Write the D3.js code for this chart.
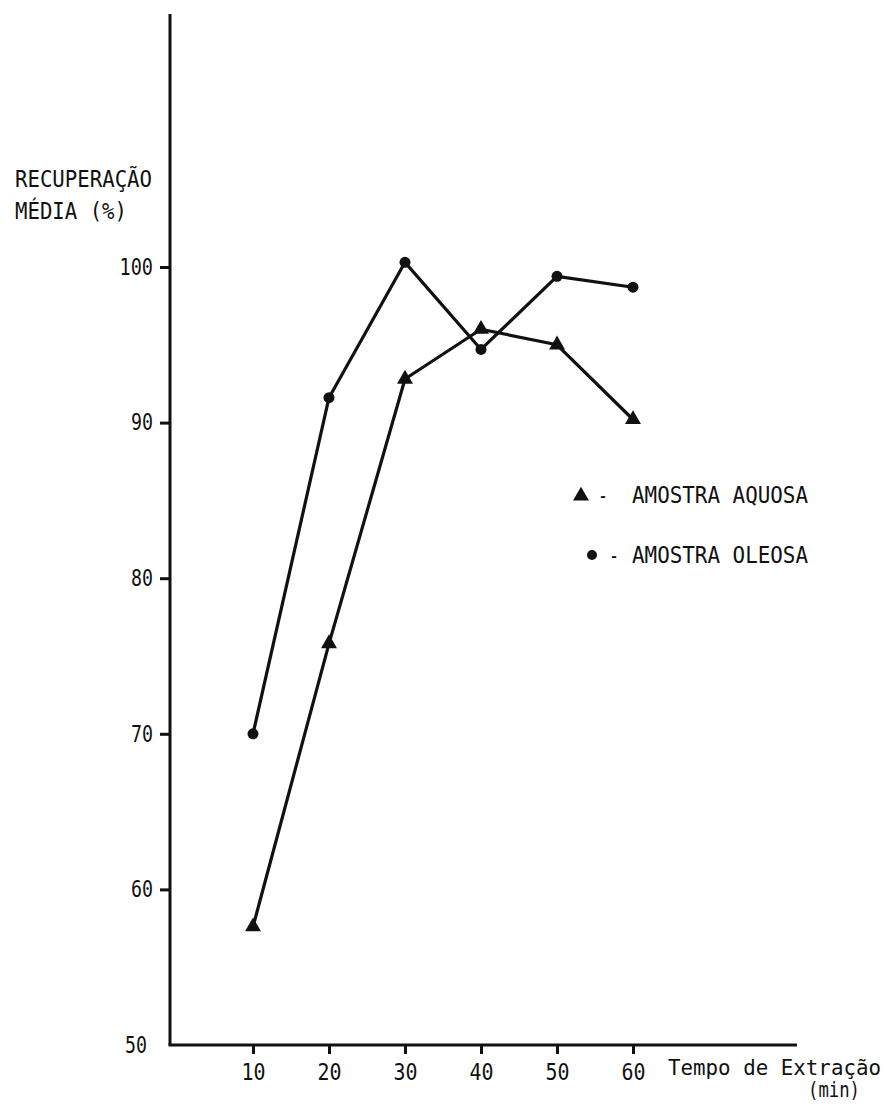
<!DOCTYPE html>
<html>
<head>
<meta charset="utf-8">
<script src="https://cdn.jsdelivr.net/npm/d3@7"></script>
<style>
  html, body { margin: 0; padding: 0; background: #fff; }
  svg text { font-family: "DejaVu Sans Mono", monospace; fill: #111; }
</style>
</head>
<body>
<svg id="chart" width="891" height="1106"></svg>
<script>
// Extraction time (min)
const times = [10, 20, 30, 40, 50, 60];
// Mean recovery (%) for each sample type
const aquosa = [57.6, 75.8, 92.8, 96.0, 95.0, 90.2];
const oleosa = [70.0, 91.6, 100.3, 94.7, 99.4, 98.7];
// Axis ticks
const yTicks = [50, 60, 70, 80, 90, 100];
const xTicks = [10, 20, 30, 40, 50, 60];

const svg = d3.select("#chart");
const ink = "#111";
const fs = 23;          // typewriter-style lettering, narrow and tall
const charW = 11.5;     // advance per character once condensed

// Condensed monospace text helper
function label(sel, str, x, y, w, size) {
  return sel.append("text")
    .attr("x", x).attr("y", y).attr("font-size", size || fs)
    .attr("textLength", w || str.length * charW)
    .attr("lengthAdjust", "spacingAndGlyphs")
    .text(str);
}

const x = d3.scaleLinear().domain([10, 60]).range([253, 633]);
const y = d3.scaleLinear().domain([50, 100]).range([1045, 267]);

const axisX0 = 170, axisX1 = 797, axisTop = 14;

// Axis lines
svg.append("line")
  .attr("x1", axisX0).attr("x2", axisX0)
  .attr("y1", axisTop).attr("y2", y(50))
  .attr("stroke", ink).attr("stroke-width", 3);
svg.append("line")
  .attr("x1", axisX0 - 1.5).attr("x2", axisX1)
  .attr("y1", y(50)).attr("y2", y(50))
  .attr("stroke", ink).attr("stroke-width", 3);

// Y axis ticks and labels
const yAxis = d3.axisLeft(y).tickValues(yTicks).tickSize(10).tickPadding(7)
  .tickFormat(d3.format("d"));
const gy = svg.append("g").attr("transform", `translate(${axisX0},0)`).call(yAxis);
gy.select(".domain").remove();
gy.selectAll(".tick line").attr("stroke", ink).attr("stroke-width", 3);
gy.selectAll(".tick").filter(d => d === 50).select("line").remove();
gy.selectAll(".tick text").attr("font-size", fs).attr("fill", ink)
  .attr("font-family", "DejaVu Sans Mono, monospace")
  .attr("textLength", d => String(d).length * charW - 1)
  .attr("lengthAdjust", "spacingAndGlyphs")
  .attr("dx", d => d === 50 ? -6 : 0);

// X axis ticks and labels
const xAxis = d3.axisBottom(x).tickValues(xTicks).tickSize(9).tickPadding(10)
  .tickFormat(d3.format("d"));
const gx = svg.append("g").attr("transform", `translate(0,${y(50)})`).call(xAxis);
gx.select(".domain").remove();
gx.selectAll(".tick line").attr("stroke", ink).attr("stroke-width", 3);
gx.selectAll(".tick text").attr("font-size", fs).attr("fill", ink)
  .attr("font-family", "DejaVu Sans Mono, monospace")
  .attr("textLength", d => String(d).length * charW + 1)
  .attr("lengthAdjust", "spacingAndGlyphs");

// Axis titles
label(svg, "RECUPERAÇÃO", 15, 187, 137);
label(svg, "MÉDIA (%)", 15, 219, 112);
label(svg, "Tempo de Extração", 668, 1075, 213, 21);
label(svg, "(min)", 808, 1097, 52, 21);

// Series lines
const line = d3.line().x(d => x(d[0])).y(d => y(d[1]));
const aqPts = times.map((t, i) => [t, aquosa[i]]);
const olPts = times.map((t, i) => [t, oleosa[i]]);

[aqPts, olPts].forEach(pts => {
  svg.append("path").datum(pts).attr("d", line)
    .attr("fill", "none").attr("stroke", ink).attr("stroke-width", 3.2)
    .attr("stroke-linejoin", "round");
});

// Markers
svg.selectAll(".ol").data(olPts).enter().append("circle")
  .attr("cx", d => x(d[0])).attr("cy", d => y(d[1])).attr("r", 5.5)
  .attr("fill", ink);

const tri = d3.symbol().type(d3.symbolTriangle).size(110);
svg.selectAll(".aq").data(aqPts).enter().append("path")
  .attr("d", tri)
  .attr("transform", d => `translate(${x(d[0])},${y(d[1])})`)
  .attr("fill", ink);

// Legend
svg.append("path").attr("d", d3.symbol().type(d3.symbolTriangle).size(110))
  .attr("transform", "translate(581,496)").attr("fill", ink);
label(svg, "-", 598, 503, 10);
label(svg, "AMOSTRA AQUOSA", 632, 503, 176);
svg.append("circle").attr("cx", 592).attr("cy", 555).attr("r", 5).attr("fill", ink);
label(svg, "-", 609, 563, 10);
label(svg, "AMOSTRA OLEOSA", 632, 563, 176);
</script>
</body>
</html>
